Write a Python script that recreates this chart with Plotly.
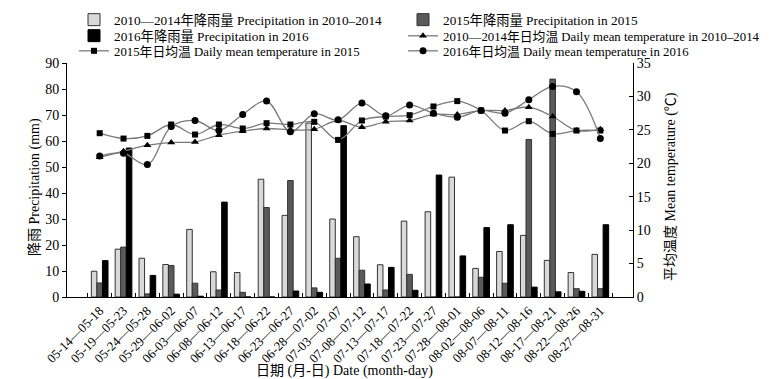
import plotly.graph_objects as go

categories = ["05-14—05-18", "05-19—05-23", "05-24—05-28", "05-29—06-02", "06-03—06-07",
              "06-08—06-12", "06-13—06-17", "06-18—06-22", "06-23—06-27", "06-28—07-02",
              "07-03—07-07", "07-08—07-12", "07-13—07-17", "07-18—07-22", "07-23—07-27",
              "07-28—08-01", "08-02—08-06", "08-07—08-11", "08-12—08-16", "08-17—08-21",
              "08-22—08-26", "08-27—08-31"]

precip_1014 = [9.9, 18.4, 14.9, 12.5, 26.0, 9.7, 9.4, 45.3, 31.4, 66.9, 30.0,
               23.2, 12.4, 29.2, 32.8, 46.1, 11.0, 17.5, 23.7, 14.1, 9.4, 16.4]
precip_2015 = [5.4, 19.2, 1.2, 12.1, 5.3, 2.7, 1.8, 34.4, 44.8, 3.5, 14.9,
               10.3, 2.7, 8.7, 0.0, 0.0, 7.6, 5.3, 60.6, 83.8, 3.2, 3.2]
precip_2016 = [14.0, 57.3, 8.3, 1.1, 0.3, 36.5, 0.0, 0.0, 2.3, 1.8, 65.9,
               5.0, 11.4, 2.6, 46.9, 15.8, 26.7, 27.8, 3.8, 2.0, 2.2, 27.8]

temp_1014 = [20.9, 21.8, 22.7, 23.1, 23.2, 24.2, 24.8, 25.2, 25.0, 25.1, 26.4,
             25.4, 26.2, 26.4, 27.3, 27.3, 27.9, 27.9, 28.4, 27.0, 24.9, 25.1]
temp_2015 = [24.5, 23.7, 24.1, 25.8, 24.3, 25.8, 25.2, 26.0, 25.8, 26.2, 23.5,
             26.4, 27.0, 27.2, 28.5, 29.3, 27.9, 24.9, 26.3, 24.4, 24.9, 24.9]
temp_2016 = [21.1, 21.5, 19.8, 25.5, 26.4, 24.9, 27.3, 29.3, 24.7, 27.4, 26.5,
             29.0, 27.1, 28.7, 27.5, 26.9, 27.9, 27.5, 29.5, 31.5, 30.7, 23.7]

names = ["2010—2014年降雨量 Precipitation in 2010–2014",
         "2015年降雨量 Precipitation in 2015",
         "2016年降雨量 Precipitation in 2016",
         "2010—2014年日均温 Daily mean temperature in 2010–2014",
         "2015年日均温 Daily mean temperature in 2015",
         "2016年日均温 Daily mean temperature in 2016"]

FONT = "Liberation Serif, Times New Roman, Noto Sans CJK SC, serif"

fig = go.Figure()
fig.add_trace(go.Bar(x=categories, y=precip_1014, name=names[0], legend="legend",
                     marker=dict(color="#d9d9d9", line=dict(color="#333333", width=1))))
fig.add_trace(go.Bar(x=categories, y=precip_2015, name=names[1], legend="legend2",
                     marker=dict(color="#5a5a5a", line=dict(color="#333333", width=1))))
fig.add_trace(go.Bar(x=categories, y=precip_2016, name=names[2], legend="legend3",
                     marker=dict(color="#000000", line=dict(color="#000000", width=1))))

line_style = dict(color="#7a7a7a", width=1.3, shape="spline", smoothing=1)
fig.add_trace(go.Scatter(x=categories, y=temp_1014, name=names[3], yaxis="y2", legend="legend4",
                         mode="lines+markers", line=line_style,
                         marker=dict(symbol="triangle-up", size=7, color="black")))
fig.add_trace(go.Scatter(x=categories, y=temp_2015, name=names[4], yaxis="y2", legend="legend5",
                         mode="lines+markers", line=line_style,
                         marker=dict(symbol="square", size=6, color="black")))
fig.add_trace(go.Scatter(x=categories, y=temp_2016, name=names[5], yaxis="y2", legend="legend6",
                         mode="lines+markers", line=line_style,
                         marker=dict(symbol="circle", size=7, color="black")))


def leg(xpx, ypx, size):
    return dict(xref="container", yref="container", x=xpx / 780, y=1 - ypx / 379,
                xanchor="left", yanchor="middle", orientation="v", visible=True,
                font=dict(family=FONT, size=size, color="black"), bgcolor="rgba(0,0,0,0)")


col1, col2 = 66, 395
rows = [12, 28, 43]

fig.update_layout(
    width=780, height=379,
    showlegend=True,
    margin=dict(l=59, r=155, t=55, b=90, autoexpand=False),
    paper_bgcolor="white", plot_bgcolor="white",
    barmode="group", bargap=0.3, bargroupgap=0.0,
    font=dict(family=FONT, size=14, color="black"),
    legend=leg(col1, rows[0], 13.3),
    legend2=leg(col2, rows[0], 13.3),
    legend3=leg(col1, rows[1], 13.3),
    legend4=leg(col2, rows[1], 12.8),
    legend5=leg(col1, rows[2], 12.8),
    legend6=leg(col2, rows[2], 12.8),
    xaxis=dict(type="category", showline=True, linecolor="black", linewidth=1,
               ticks="inside", ticklen=4, tickcolor="black", tickson="boundaries",
               tickangle=-45, tickfont=dict(family=FONT, size=13), showgrid=False,
               automargin=False),
    yaxis=dict(range=[0, 90], dtick=10, showline=True, linecolor="black", linewidth=1,
               ticks="outside", ticklen=4, tickcolor="black", showgrid=False, zeroline=False,
               tickfont=dict(family=FONT, size=14), automargin=False),
    yaxis2=dict(range=[0, 35], dtick=5, overlaying="y", side="right", showline=True,
                linecolor="black", linewidth=1, ticks="inside", ticklen=4, tickcolor="black",
                showgrid=False, zeroline=False, tickfont=dict(family=FONT, size=14),
                automargin=False),
    annotations=[
        dict(text="降雨 Precipitation (mm)", xref="paper", yref="paper",
             x=(27 - 59) / 566, y=0.47, xanchor="center", yanchor="middle",
             textangle=-90, showarrow=False, font=dict(family=FONT, size=14)),
        dict(text="平均温度 Mean temperature (℃)", xref="paper", yref="paper",
             x=(663 - 59) / 566, y=0.47, xanchor="center", yanchor="middle",
             textangle=-90, showarrow=False, font=dict(family=FONT, size=14)),
        dict(text="日期 (月-日) Date (month-day)", xref="paper", yref="paper", x=0.491, y=-0.316,
             xanchor="center", yanchor="middle", showarrow=False, font=dict(family=FONT, size=14)),
    ],
)

fig.write_html("out.html")
